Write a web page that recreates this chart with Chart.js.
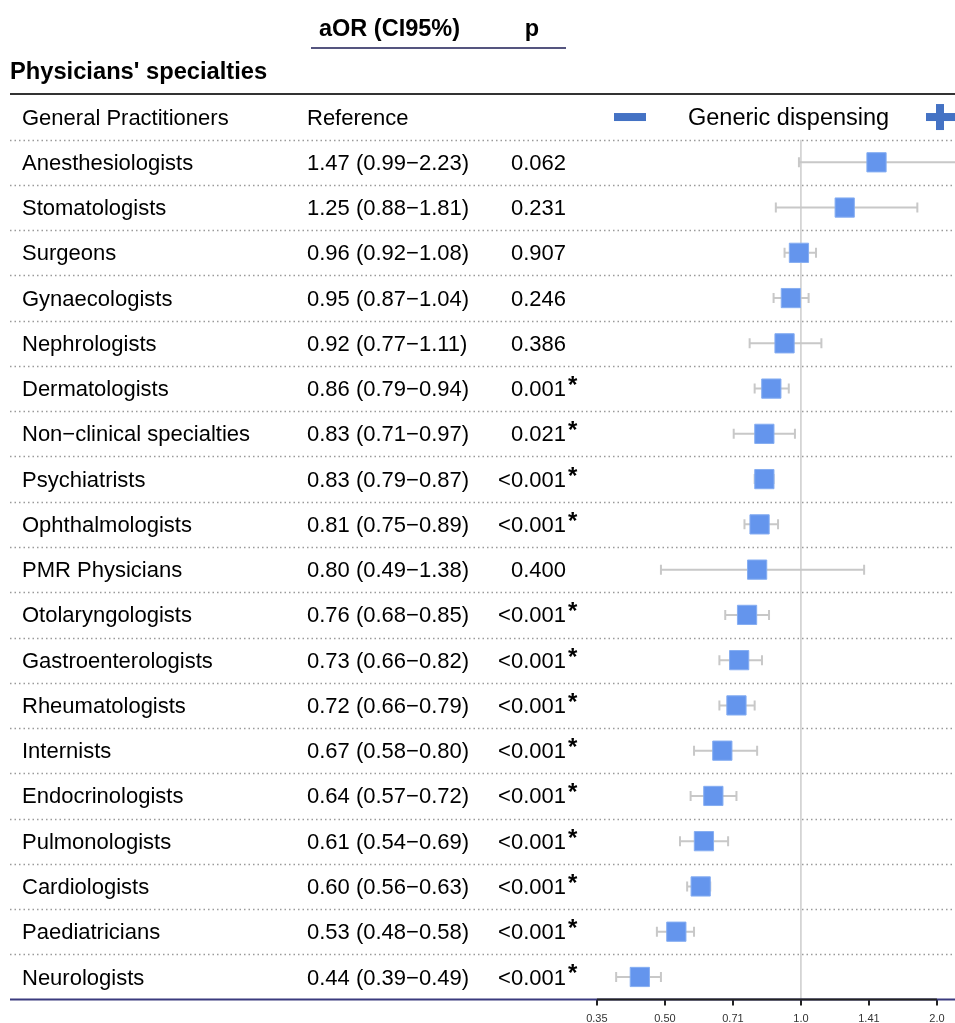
<!DOCTYPE html>
<html>
<head>
<meta charset="utf-8">
<script src="https://cdn.jsdelivr.net/npm/chart.js@4.4.1/dist/chart.umd.min.js"></script>
<style>
  html, body { margin: 0; padding: 0; background: #fff; }
  canvas { display: block; }
</style>
</head>
<body>
<canvas id="c" width="955" height="1023"></canvas>
<script>
// ---- data ----
const categories = [
  "General Practitioners", "Anesthesiologists", "Stomatologists", "Surgeons",
  "Gynaecologists", "Nephrologists", "Dermatologists", "Non\u2212clinical specialties",
  "Psychiatrists", "Ophthalmologists", "PMR Physicians", "Otolaryngologists",
  "Gastroenterologists", "Rheumatologists", "Internists", "Endocrinologists",
  "Pulmonologists", "Cardiologists", "Paediatricians", "Neurologists"
];
const aorText = [
  "Reference", "1.47 (0.99\u22122.23)", "1.25 (0.88\u22121.81)", "0.96 (0.92\u22121.08)",
  "0.95 (0.87\u22121.04)", "0.92 (0.77\u22121.11)", "0.86 (0.79\u22120.94)", "0.83 (0.71\u22120.97)",
  "0.83 (0.79\u22120.87)", "0.81 (0.75\u22120.89)", "0.80 (0.49\u22121.38)", "0.76 (0.68\u22120.85)",
  "0.73 (0.66\u22120.82)", "0.72 (0.66\u22120.79)", "0.67 (0.58\u22120.80)", "0.64 (0.57\u22120.72)",
  "0.61 (0.54\u22120.69)", "0.60 (0.56\u22120.63)", "0.53 (0.48\u22120.58)", "0.44 (0.39\u22120.49)"
];
const pText = [
  "", "0.062", "0.231", "0.907", "0.246", "0.386", "0.001", "0.021", "<0.001", "<0.001",
  "0.400", "<0.001", "<0.001", "<0.001", "<0.001", "<0.001", "<0.001", "<0.001", "<0.001", "<0.001"
];
const significant = [
  false, false, false, false, false, false, true, true, true, true,
  false, true, true, true, true, true, true, true, true, true
];
// plotted estimates (row 0 = reference, no mark)
const aor   = [null, 1.47, 1.25, 0.99, 0.95, 0.92, 0.86, 0.83, 0.83, 0.81, 0.80, 0.76, 0.73, 0.72, 0.67, 0.64, 0.61, 0.60, 0.53, 0.44];
const ciLow = [null, 0.99, 0.88, 0.92, 0.87, 0.77, 0.79, 0.71, 0.79, 0.75, 0.49, 0.68, 0.66, 0.66, 0.58, 0.57, 0.54, 0.56, 0.48, 0.39];
const ciHigh= [null, 2.23, 1.81, 1.08, 1.04, 1.11, 0.94, 0.97, 0.87, 0.89, 1.38, 0.85, 0.82, 0.79, 0.80, 0.72, 0.69, 0.63, 0.58, 0.49];
const tickValues = [0.35355, 0.5, 0.70711, 1, 1.41421, 2];
const tickLabels = ["0.35", "0.50", "0.71", "1.0", "1.41", "2.0"];
const refValue = 1;

// ---- build datasets ----
const rows = categories.map((_, i) => i);
const pointData = rows.filter(i => aor[i] !== null).map(i => ({ x: aor[i], y: i }));
const whiskerData = rows.filter(i => ciLow[i] !== null)
  .flatMap(i => [{ x: ciLow[i], y: i }, { x: ciHigh[i], y: i }, { x: null, y: null }]);
const capData = rows.filter(i => ciLow[i] !== null).flatMap(i => [{ x: ciLow[i], y: i }, { x: ciHigh[i], y: i }]);

const FONT = "'Liberation Sans', Arial, sans-serif";
const NAVY = "#3b3b7e";

const tablePlugin = {
  id: 'tablePlugin',
  beforeDatasetsDraw(chart) {
    const ctx = chart.ctx, xs = chart.scales.x, ys = chart.scales.y, ca = chart.chartArea;
    ctx.save();
    // dotted row separators
    ctx.strokeStyle = "#9a9a9a";
    ctx.lineWidth = 1.5;
    ctx.setLineDash([1.5, 3]);
    for (let i = 0; i < categories.length - 1; i++) {
      const y = Math.round(ys.getPixelForValue(i + 0.5)) + 0.5;
      ctx.beginPath(); ctx.moveTo(ca.left, y); ctx.lineTo(ca.right, y); ctx.stroke();
    }
    ctx.setLineDash([]);
    // reference vertical line
    const xr = xs.getPixelForValue(refValue);
    ctx.strokeStyle = "#cccccc";
    ctx.lineWidth = 1.5;
    ctx.beginPath(); ctx.moveTo(xr, ys.getPixelForValue(0.5)); ctx.lineTo(xr, ca.bottom); ctx.stroke();
    ctx.restore();
  },
  afterDraw(chart) {
    const ctx = chart.ctx, xs = chart.scales.x, ys = chart.scales.y, ca = chart.chartArea;
    ctx.save();
    // header
    ctx.fillStyle = "#000";
    ctx.font = "bold 23.5px " + FONT;
    ctx.textBaseline = "alphabetic";
    ctx.textAlign = "left";
    ctx.fillText("aOR (CI95%)", 319, 36);
    ctx.textAlign = "center";
    ctx.fillText("p", 532, 36);
    ctx.strokeStyle = "#55557f";
    ctx.lineWidth = 2;
    ctx.beginPath(); ctx.moveTo(311, 48); ctx.lineTo(566, 48); ctx.stroke();
    ctx.textAlign = "left";
    ctx.font = "bold 23.7px " + FONT;
    ctx.fillText("Physicians' specialties", 10, 79);
    // top rule
    const yTop = ys.getPixelForValue(-0.5);
    ctx.strokeStyle = "#333";
    ctx.lineWidth = 2;
    ctx.beginPath(); ctx.moveTo(ca.left, yTop - 0.5); ctx.lineTo(ca.right, yTop - 0.5); ctx.stroke();
    // rows text
    for (let i = 0; i < categories.length; i++) {
      const y = ys.getPixelForValue(i) + 1.5;
      ctx.fillStyle = "#000";
      ctx.font = "22px " + FONT;
      ctx.textBaseline = "middle";
      ctx.textAlign = "left";
      ctx.fillText(categories[i], 22, y);
      ctx.fillText(aorText[i], 307, y);
      ctx.textAlign = "right";
      ctx.fillText(pText[i], 566, y);
      if (significant[i]) {
        ctx.textAlign = "left";
        ctx.textBaseline = "alphabetic";
        ctx.font = "bold 24px " + FONT;
        ctx.fillText("*", 568, y + 3);
      }
    }
    // legend in reference row
    const yl = ys.getPixelForValue(0);
    ctx.fillStyle = "#4472c4";
    ctx.fillRect(614, yl - 4, 32, 8);
    ctx.fillRect(926, yl - 4, 29, 8);
    ctx.fillRect(936, yl - 13, 8, 26);
    ctx.fillStyle = "#000";
    ctx.font = "23.5px " + FONT;
    ctx.textAlign = "left";
    ctx.textBaseline = "middle";
    ctx.fillText("Generic dispensing", 688, yl + 1);
    // bottom rules
    ctx.strokeStyle = NAVY;
    ctx.lineWidth = 2;
    ctx.beginPath(); ctx.moveTo(ca.left, ca.bottom); ctx.lineTo(ca.right, ca.bottom); ctx.stroke();
    ctx.strokeStyle = "#222";
    ctx.beginPath();
    ctx.moveTo(xs.getPixelForValue(tickValues[0]), ca.bottom);
    ctx.lineTo(xs.getPixelForValue(tickValues[tickValues.length - 1]), ca.bottom);
    ctx.stroke();
    ctx.restore();
  }
};

new Chart(document.getElementById('c'), {
  type: 'scatter',
  data: {
    datasets: [
      {
        type: 'scatter',
        data: pointData,
        pointStyle: 'rect',
        radius: 13.6,
        backgroundColor: '#6495ed',
        borderColor: '#86aef2',
        borderWidth: 1,
        order: 0
      },
      {
        type: 'scatter',
        data: capData,
        pointStyle: 'line',
        rotation: 90,
        radius: 5,
        borderColor: '#c8c8c8',
        borderWidth: 2,
        order: 1
      },
      {
        type: 'scatter',
        data: whiskerData,
        showLine: true,
        spanGaps: false,
        pointRadius: 0,
        borderColor: '#c8c8c8',
        borderWidth: 2,
        order: 2
      }
    ]
  },
  options: {
    responsive: false,
    animation: false,
    devicePixelRatio: 1,
    events: [],
    layout: { autoPadding: false, padding: { top: 94.4, left: 10, right: 0, bottom: 0 } },
    plugins: { legend: { display: false }, tooltip: { enabled: false } },
    scales: {
      x: {
        type: 'logarithmic',
        position: 'bottom',
        offset: false,
        min: 0.01776,
        max: 2.193,
        afterBuildTicks: (axis) => { axis.ticks = tickValues.map(v => ({ value: v })); },
        afterFit: (axis) => { axis.height = 23.4; },
        border: { display: false },
        grid: { display: true, drawOnChartArea: false, drawTicks: true, tickLength: 6, color: '#222', lineWidth: 2 },
        ticks: {
          autoSkip: false, maxRotation: 0, minRotation: 0, padding: 7,
          color: '#333', font: { family: FONT, size: 11 },
          callback: (value, index) => tickLabels[index]
        }
      },
      y: {
        type: 'linear',
        offset: false,
        min: -0.5,
        max: 19.5,
        reverse: true,
        display: false
      }
    }
  },
  plugins: [tablePlugin]
});
</script>
</body>
</html>
